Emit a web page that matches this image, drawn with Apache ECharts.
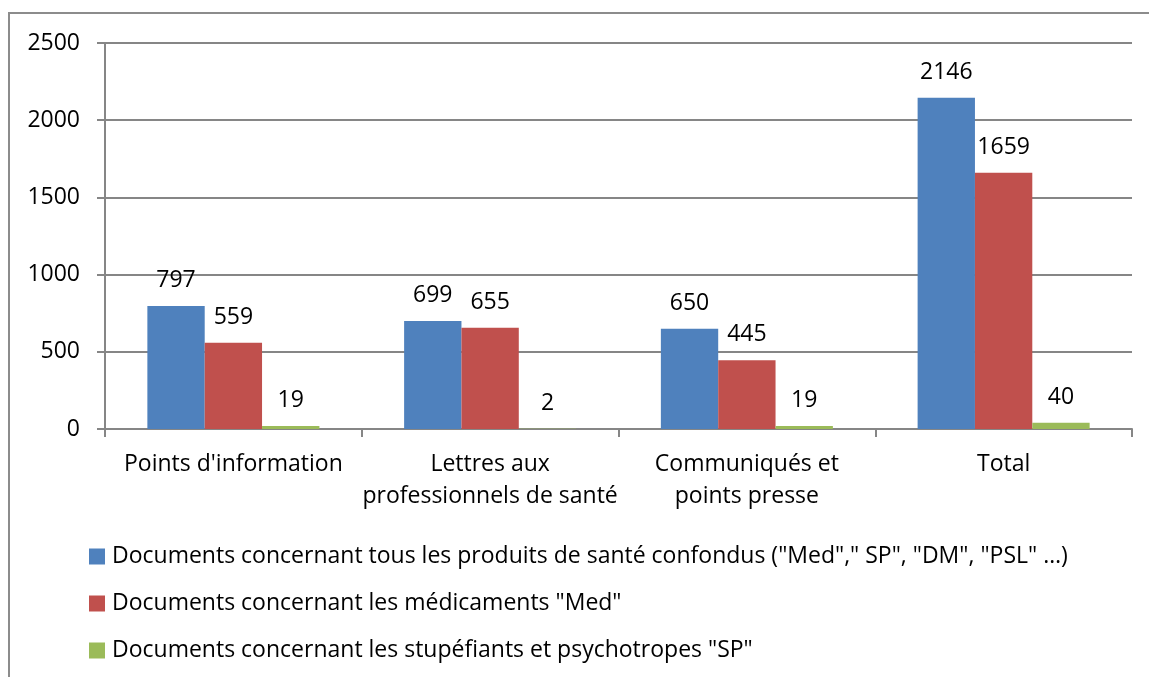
<!DOCTYPE html>
<html>
<head>
<meta charset="utf-8">
<script src="https://cdn.jsdelivr.net/npm/echarts@6/dist/echarts.min.js"></script>
<style>
  html, body { margin: 0; padding: 0; background: #ffffff; }
  #chart { width: 1149px; height: 677px; }
</style>
</head>
<body>
<div id="chart"></div>
<script>
// categories and values
const categories = ["Points d'information", 'Lettres aux\nprofessionnels de santé', 'Communiqués et\npoints presse', 'Total']
const seriesNames = [
  'Documents concernant tous les produits de santé confondus ("Med"," SP", "DM", "PSL" …)',
  'Documents concernant les médicaments "Med"',
  'Documents concernant les stupéfiants et psychotropes "SP"'
]
const allProducts = [797, 699, 650, 2146]
const medicaments = [559, 655, 445, 1659]
const stupefiants = [19, 2, 19, 40]
const colors = ['#4F81BD', '#C0504D', '#9BBB59']

const font = '"Open Sans", "Noto Sans", sans-serif'
const fs = 23
const gray = '#868686'

const chart = echarts.init(document.getElementById('chart'))

const values = [allProducts, medicaments, stupefiants]
const series = values.map(function (data, i) {
  return {
    name: seriesNames[i],
    type: 'bar',
    data: data,
    barGap: '0%',
    barCategoryGap: '33%',
    itemStyle: { color: colors[i] },
    label: {
      show: true,
      position: 'top',
      distance: 14,
      color: '#000000',
      fontSize: fs,
      fontFamily: font
    }
  }
})

chart.setOption({
  animation: false,
  textStyle: { fontFamily: font },
  graphic: [{
    type: 'rect',
    shape: { x: 9, y: 13, width: 1160, height: 700 },
    style: { fill: 'none', stroke: '#8c8c8c', lineWidth: 2 },
    silent: true
  }],
  grid: { left: 105, right: 17, top: 43, bottom: 248 },
  legend: {
    orient: 'vertical',
    left: 89,
    top: 545,
    padding: 0,
    itemWidth: 16,
    itemHeight: 16,
    itemGap: 24,
    icon: 'rect',
    textStyle: { fontSize: fs, color: '#000000', fontFamily: font, padding: [0, 0, 0, 2] },
    data: seriesNames
  },
  xAxis: {
    type: 'category',
    data: categories,
    axisLine: { lineStyle: { color: gray, width: 2 } },
    axisTick: { show: true, length: 8, lineStyle: { color: gray, width: 2 } },
    axisLabel: { color: '#000000', fontSize: fs, lineHeight: 32, margin: 19, interval: 0, fontFamily: font }
  },
  yAxis: {
    type: 'value',
    min: 0,
    max: 2500,
    interval: 500,
    axisLine: { show: true, lineStyle: { color: gray, width: 2 } },
    axisTick: { show: true, length: 8, lineStyle: { color: gray, width: 2 } },
    axisLabel: { color: '#000000', fontSize: fs, margin: 25, fontFamily: font, formatter: function (v) { return String(v) } },
    splitLine: { lineStyle: { color: gray, width: 2 } }
  },
  series: series
})
</script>
</body>
</html>
